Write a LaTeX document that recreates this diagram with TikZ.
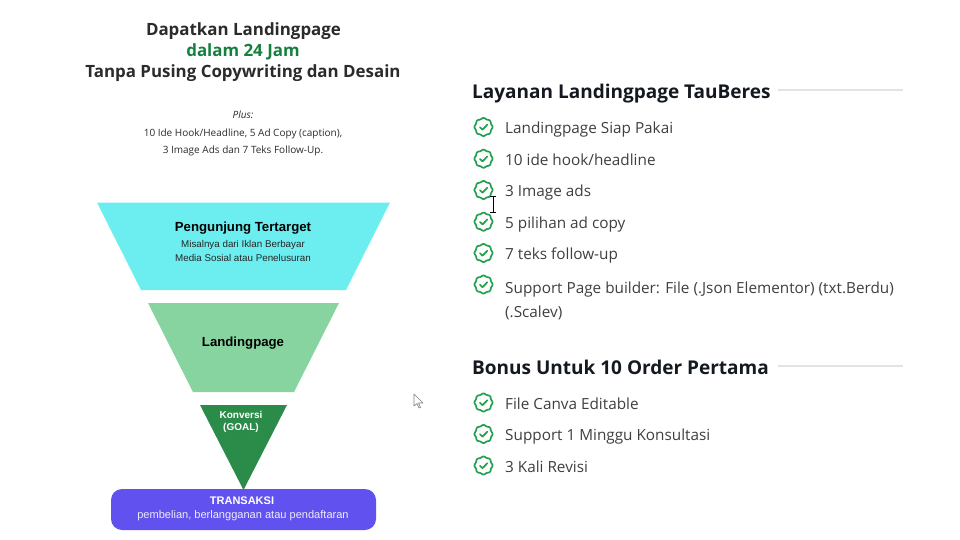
\documentclass[tikz,border=0pt]{standalone}
\usepackage{fontspec}
\setmainfont{Open Sans}
\newfontfamily\arialf{Liberation Sans}
\definecolor{darktxt}{HTML}{2B2B2B}
\definecolor{greentxt}{HTML}{15803D}
\definecolor{itemtxt}{HTML}{3F3F3F}
\definecolor{headtxt}{HTML}{14181F}
\definecolor{cyanfill}{HTML}{6CEEF0}
\definecolor{mintfill}{HTML}{88D4A0}
\definecolor{goalfill}{HTML}{2A8C48}
\definecolor{purplefill}{HTML}{6152F0}
\definecolor{checkgreen}{HTML}{22A04F}
\definecolor{rulegray}{HTML}{E2E4E7}
\tikzset{
  x=1pt,y=-1pt,
  titletext/.style={font=\fontsize{16.9}{21}\selectfont\bfseries,text=darktxt,anchor=base,inner sep=0pt},
  plustext/.style={font=\fontsize{10}{12}\selectfont,text=darktxt,anchor=base,inner sep=0pt},
  headtext/.style={font=\fontsize{19}{24}\selectfont\bfseries,text=headtxt,anchor=base west,inner sep=0pt},
  itemtext/.style={font=\fontsize{15.3}{24}\selectfont,text=itemtxt,anchor=base west,inner sep=0pt,align=left},
  funnelbold/.style={font=\arialf\bfseries\fontsize{13.2}{16}\selectfont,text=black,anchor=center,inner sep=0pt},
  funnelsmall/.style={font=\arialf\fontsize{9.8}{13}\selectfont,text=black!85,anchor=center,inner sep=0pt},
  rulestyle/.style={draw=rulegray,line width=2pt},
  checkmark/.pic={
    \draw[checkgreen,line width=1.7pt,line join=round]
      plot[domain=0:360,samples=97,smooth] ({(8.6+0.45*cos(8*\x))*cos(\x)},{(8.6+0.45*cos(8*\x))*sin(\x)}) -- cycle;
    \draw[checkgreen,line width=1.7pt,line cap=round,line join=round] (-3.6,0.2) -- (-1,2.7) -- (3.8,-2.3);
  }
}
\begin{document}
\begin{tikzpicture}
\useasboundingbox (0,0) rectangle (960,540);
\fill[white] (0,0) rectangle (960,540);
% Title
\node[titletext] (t1) at (243.5,35.5) {Dapatkan Landingpage};
\node[titletext,text=greentxt] (t2) at (243,56.5) {dalam 24 Jam};
\node[titletext] (t3) at (243,77.5) {Tanpa Pusing Copywriting dan Desain};
\node[plustext] (p1) at (243,119) {\itshape Plus:};
\node[plustext] (p2) at (243,136.5) {10 Ide Hook/Headline, 5 Ad Copy (caption),};
\node[plustext] (p3) at (243,154) {3 Image Ads dan 7 Teks Follow-Up.};
% Funnel
\fill[cyanfill] (97,202.5) -- (390,202.5) -- (346,290) -- (141,290) -- cycle;
\fill[mintfill] (148,303) -- (339,303) -- (294,392) -- (193,392) -- cycle;
\fill[goalfill] (200,405) -- (287,405) -- (243.5,490) -- cycle;
\fill[purplefill,rounded corners=11pt] (111,489) rectangle (376,530);
\node[funnelbold] (f1) at (243,228.5) {Pengunjung Tertarget};
\node[funnelsmall] (f2) at (243,244.5) {Misalnya dari Iklan Berbayar};
\node[funnelsmall] (f3) at (243,258) {Media Sosial atau Penelusuran};
\node[funnelbold] (f4) at (243,343) {Landingpage};
\node[funnelsmall,font=\arialf\bfseries\fontsize{10}{13}\selectfont,text=white] (f5) at (241,414.5) {Konversi};
\node[funnelsmall,font=\arialf\bfseries\fontsize{10}{13}\selectfont,text=white] (f6) at (241,428) {(GOAL)};
\node[funnelsmall,font=\arialf\bfseries\fontsize{11}{13}\selectfont,text=white] (f7) at (242,500.5) {TRANSAKSI};
\node[funnelsmall,font=\arialf\fontsize{11.05}{13}\selectfont,text=white!88!purplefill] (f8) at (243,516) {pembelian, berlangganan atau pendaftaran};
% Right column
\node[headtext] (h1) at (472,98.5) {Layanan Landingpage TauBeres};
\draw[rulestyle] (778,90.5) -- (903,90.5);
\foreach \yy/\bb/\txt in {127/133.5/{Landingpage Siap Pakai},158.7/165/{10 ide hook/headline},190/196.7/{3 Image ads},221.7/228/{5 pilihan ad copy},253/259.5/{7 teks follow-up}}{
  \pic at (483.5,\yy) {checkmark};
  \node[itemtext] at (505,\bb) {\txt};
}
\pic at (483.5,284.5) {checkmark};
\node[itemtext] (i6) at (505,293) {Support Page builder: File (.Json Elementor) (txt.Berdu)};
\node[itemtext] (i7) at (505,317) {(.Scalev)};
\node[headtext] (h2) at (472,374) {Bonus Untuk 10 Order Pertama};
\draw[rulestyle] (778,366) -- (903,366);
\foreach \yy/\bb/\txt in {402.5/409/{File Canva Editable},434/440.5/{Support 1 Minggu Konsultasi},465.5/472/{3 Kali Revisi}}{
  \pic at (483.5,\yy) {checkmark};
  \node[itemtext] at (505,\bb) {\txt};
}
% I-beam cursor
\draw[black,line width=0.9pt] (490,196.5) -- (496,196.5) (493,196.5) -- (493,212) (490,212) -- (496,212);
% Arrow cursor
\draw[gray,fill=white,line width=0.6pt,line join=round] (414,394) -- (414,406) -- (417,403.5) -- (419,408) -- (420.5,407.5) -- (418.5,403) -- (423,403) -- cycle;
\end{tikzpicture}
\end{document}
